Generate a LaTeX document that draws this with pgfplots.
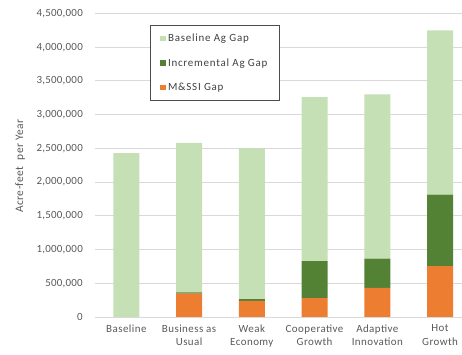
\documentclass[border=0pt]{standalone}
\usepackage{pgfplots}
\pgfplotsset{compat=1.18}
\usepackage{fontspec}
\setmainfont{Carlito}
\newfontfamily\legfont[LetterSpace=7]{Carlito}
\newfontfamily\catfont[LetterSpace=4]{Carlito}
\newfontfamily\tickfont[LetterSpace=2]{Carlito}
\newfontfamily\labfont[LetterSpace=4]{Carlito}
\definecolor{lgreen}{HTML}{C5E0B4}
\definecolor{dgreen}{HTML}{548235}
\definecolor{orng}{HTML}{ED7D31}
\definecolor{gridc}{HTML}{D9D9D9}
\definecolor{txt}{HTML}{595959}
\begin{document}
\begin{tikzpicture}
\begin{axis}[
  at={(0,0)}, anchor=south west,
  scale only axis, width=367bp, height=303.5bp,
  ybar stacked, bar width=26bp,
  xmin=-0.5, xmax=5.35, ymin=0, ymax=4500000,
  xtick={0,1,2,3,4,5},
  xticklabels={Baseline, Business as\\Usual, Weak\\Economy, Cooperative\\Growth, Adaptive\\Innovation, Hot\\Growth},
  xticklabel style={align=center, font=\catfont\fontsize{11}{13.5}\selectfont, text=txt, inner sep=0pt, yshift=-7.5bp},
  ytick={0,500000,...,4500000},
  scaled y ticks=false,
  /pgf/number format/fixed,
  /pgf/number format/1000 sep={,},
  /pgf/number format/assume math mode=true,
  yticklabel style={font=\tickfont\fontsize{11}{13}\selectfont, text=txt, inner sep=0pt, xshift=-12bp},
  major tick length=0pt,
  ymajorgrids, grid style={gridc, line width=0.9bp},
  axis line style={draw=none},
  reverse legend,
  legend style={at={(rel axis cs:0.150,0.962)}, anchor=north west, draw=black!70, line width=0.8bp,
    font=\legfont\fontsize{11}{13}\selectfont, text=black!75, inner xsep=10bp, inner ysep=6.5bp, row sep=11.5bp},
  legend cell align=left,
  legend image code/.code={\fill[#1] (0bp,-2.8bp) rectangle (5.6bp,2.8bp);},
]
\addplot[fill=orng, draw=none] coordinates {(0,0) (1,345000) (2,240000) (3,280000) (4,430000) (5,755000)};
\addplot[fill=dgreen, draw=none] coordinates {(0,0) (1,20000) (2,25000) (3,550000) (4,435000) (5,1060000)};
\addplot[fill=lgreen, draw=none] coordinates {(0,2430000) (1,2215000) (2,2235000) (3,2430000) (4,2435000) (5,2435000)};
\legend{M\&SSI Gap, Incremental Ag Gap, Baseline Ag Gap}
\end{axis}
\node[rotate=90, font=\labfont\fontsize{11.5}{14}\selectfont, text=txt] at (-75bp,151bp) {Acre-feet\ \ per Year};
\pgfresetboundingbox
\path (-95bp,-38bp) rectangle (367bp,317bp);
\end{tikzpicture}
\end{document}
